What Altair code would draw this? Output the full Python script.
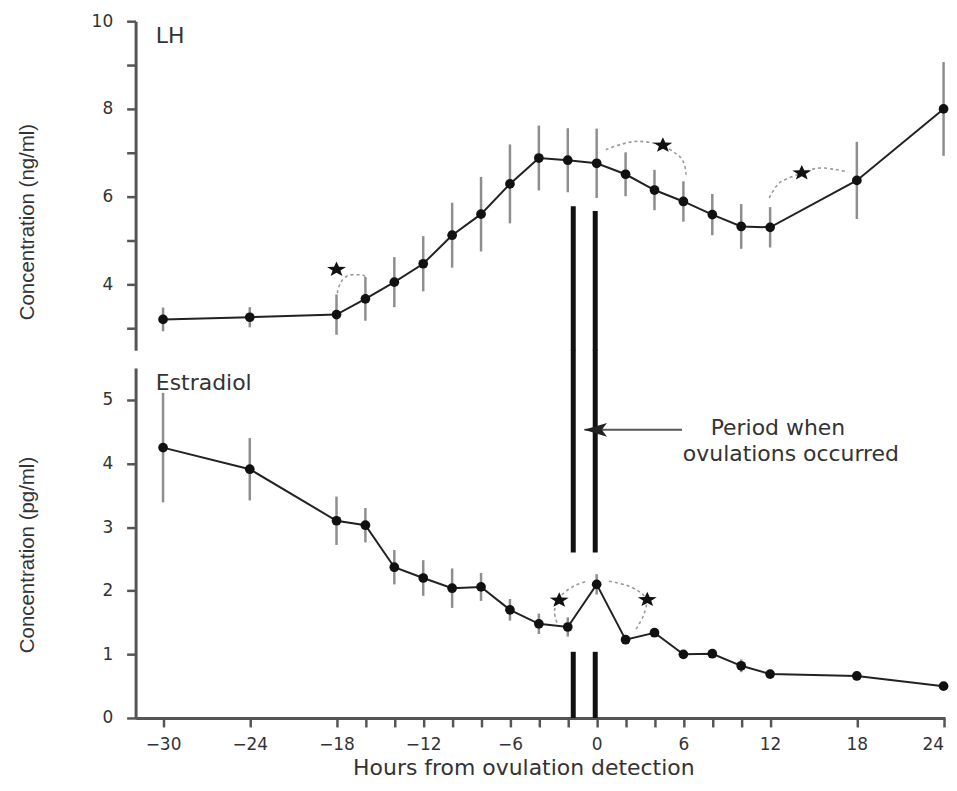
import math
import altair as alt
import pandas as pd

# ---------------- data ----------------
hours = [-30, -24, -18, -16, -14, -12, -10, -8, -6, -4, -2, 0, 2, 4, 6, 8, 10, 12, 18, 24]
lh_mean = [3.20, 3.25, 3.31, 3.67, 4.05, 4.47, 5.12, 5.60, 6.29, 6.88, 6.83, 6.76,
           6.51, 6.15, 5.89, 5.59, 5.32, 5.30, 6.37, 8.00]
lh_err = [0.27, 0.23, 0.46, 0.50, 0.57, 0.63, 0.74, 0.85, 0.90, 0.74, 0.73, 0.79,
          0.50, 0.46, 0.46, 0.47, 0.51, 0.46, 0.88, 1.07]
e2_mean = [4.25, 3.91, 3.10, 3.03, 2.37, 2.20, 2.04, 2.06, 1.70, 1.48, 1.43, 2.10,
           1.23, 1.34, 1.00, 1.01, 0.82, 0.69, 0.66, 0.50]
e2_err = [0.86, 0.49, 0.38, 0.27, 0.27, 0.28, 0.31, 0.22, 0.17, 0.16, 0.15, 0.16,
          0.05, 0.06, 0.06, 0.05, 0.10, 0.03, 0.03, 0.02]

# period when ovulations occurred (two thick vertical bars)
period_x = [-1.62, -0.10]
period_top_lh = [5.78, 5.67]
period_lh_end = [2.49, 2.49]
period_e2_upper_top = [5.79, 5.79]
period_e2_upper_bottom = [2.6, 2.6]
period_e2_lower_top = [1.04, 1.04]
period_e2_lower_bottom = [0.0, 0.0]

# significance arcs (dashed) and stars
arc_lh_id = [1] * 6 + [2] * 7 + [3] * 7
arc_lh_x = [-17.95, -17.7, -17.2, -16.5, -16.1, -16.0,
            0.63, 1.77, 2.92, 4.4, 5.57, 6.03, 6.19,
            11.94, 12.35, 12.8, 14.19, 15.34, 16.5, 17.4]
arc_lh_y = [3.80, 4.05, 4.20, 4.22, 4.20, 4.12,
            7.07, 7.20, 7.26, 7.18, 6.96, 6.77, 6.50,
            5.97, 6.20, 6.35, 6.54, 6.65, 6.62, 6.56]
star_lh_x = [-18.0, 4.58, 14.19]
star_lh_y = [4.34, 7.17, 6.54]

arc_e2_id = [1] * 6 + [2] * 7
arc_e2_x = [-2.75, -2.92, -2.65, -2.13, -1.44, -0.64,
            0.86, 2.0, 2.92, 3.45, 3.27, 2.92, 2.7]
arc_e2_y = [1.50, 1.68, 1.87, 1.99, 2.09, 2.15,
            2.15, 2.09, 1.99, 1.85, 1.63, 1.47, 1.39]
star_e2_x = [-2.59, 3.5]
star_e2_y = [1.85, 1.86]

arrow_x = [-0.85]
arrow_x2 = [5.9]
arrow_y = [4.53]
arrow_head_x = [-0.08]

note_x = [12.54, 13.44]
note_y = [4.56, 4.15]
note_text = ["Period when", "ovulations occurred"]

lh_label = (["LH"], [-30.5], [9.66])
e2_label = (["Estradiol"], [-30.5], [5.27])

# ---------------- styles ----------------
FONT = "DejaVu Sans"
TEXT_COLOR = "#333333"
AXIS_COLOR = "#555555"
BAR_COLOR = "#8e8e8e"


def star_path(r_in=0.42, sy=0.8):
    pts = []
    for k in range(10):
        ang = math.radians(-90 + 36 * k)
        r = 1.0 if k % 2 == 0 else r_in
        pts.append(f"{r * math.cos(ang):.3f},{r * math.sin(ang) * sy:.3f}")
    return "M" + "L".join(pts) + "Z"


STAR = star_path()
ARROW = "M-1,0L1,-0.6L0.55,0L1,0.6Z"

xs = alt.Scale(domain=[-31.9, 24.1], nice=False, zero=False)
x_top = alt.X("h:Q", scale=xs, axis=None)
x_bot = alt.X(
    "h:Q", scale=xs,
    axis=alt.Axis(values=hours, labelExpr="datum.value % 6 === 0 ? datum.label : ''",
                  title="Hours from ovulation detection", labelFlush=5, labelOverlap=False,
                  titleFont=FONT, titleFontSize=22, titleX=389, titleY=40),
)

ys_top = alt.Scale(domain=[2.5, 10], nice=False, zero=False)
ys_bot = alt.Scale(domain=[0, 5.5], nice=False, zero=False)
y_top = alt.Y(
    "v:Q", scale=ys_top,
    axis=alt.Axis(values=[3, 4, 5, 6, 7, 8, 9, 10], format="d",
                  labelExpr="datum.value % 2 === 0 ? datum.label : ''",
                  title="Concentration (ng/ml)", titleX=-98, titleY=201, labelOverlap=False),
)
y_bot = alt.Y(
    "v:Q", scale=ys_bot,
    axis=alt.Axis(values=[0, 0.5, 1, 1.5, 2, 2.5, 3, 3.5, 4, 4.5, 5], format="d",
                  labelExpr="datum.value % 1 === 0 ? datum.label : ''",
                  title="Concentration (pg/ml)", titleX=-98, titleY=187, labelOverlap=False),
)


def panel(x_enc, y_enc, mean, err, bars, arcs, stars, label, extras):
    base = pd.DataFrame({"h": hours, "v": mean})
    edf = pd.DataFrame({"h": hours,
                        "v": [m - e for m, e in zip(mean, err)],
                        "v2": [m + e for m, e in zip(mean, err)]})
    errbars = alt.Chart(edf).mark_rule(color=BAR_COLOR, strokeWidth=2.5).encode(
        x=x_enc, y=y_enc, y2="v2:Q")
    line = alt.Chart(base).mark_line(color="#222222", strokeWidth=2).encode(x=x_enc, y=y_enc)
    pts = alt.Chart(base).mark_circle(color="#111111", size=95, opacity=1).encode(x=x_enc, y=y_enc)
    layers = []
    for (bx, btop, bbot) in bars:
        bdf = pd.DataFrame({"h": bx, "v": btop, "v2": bbot})
        layers.append(alt.Chart(bdf).mark_rule(color="#111111", strokeWidth=5, strokeCap="butt")
                      .encode(x=x_enc, y=y_enc, y2="v2:Q"))
    ax_id, ax_x, ax_y = arcs
    adf = pd.DataFrame({"id": ax_id, "h": ax_x, "v": ax_y, "o": list(range(len(ax_x)))})
    arc = alt.Chart(adf).mark_line(color="#9a9a9a", strokeWidth=1.6, strokeDash=[3, 3],
                                   interpolate="cardinal").encode(
        x=x_enc, y=y_enc, detail="id:N", order="o:Q")
    sdf = pd.DataFrame({"h": stars[0], "v": stars[1]})
    star = alt.Chart(sdf).mark_point(shape=STAR, filled=True, color="#111111", size=400,
                                     opacity=1, strokeWidth=0).encode(x=x_enc, y=y_enc)
    ldf = pd.DataFrame({"t": label[0], "h": label[1], "v": label[2]})
    lab = alt.Chart(ldf).mark_text(align="left", baseline="middle", font=FONT, fontSize=22,
                                   color=TEXT_COLOR).encode(x=x_enc, y=y_enc, text="t:N")
    return alt.layer(line, errbars, *layers, pts, arc, star, lab, *extras)


# annotation for the bottom panel
adf = pd.DataFrame({"h": arrow_x, "h2": arrow_x2, "v": arrow_y})
arrow_line = alt.Chart(adf).mark_rule(color="#555555", strokeWidth=2).encode(
    x=x_bot, x2="h2:Q", y=y_bot)
hdf = pd.DataFrame({"h": arrow_head_x, "v": arrow_y})
arrow_head = alt.Chart(hdf).mark_point(shape=ARROW, filled=True, color="#222222", size=529,
                                       opacity=1, strokeWidth=0).encode(x=x_bot, y=y_bot)
ndf = pd.DataFrame({"h": note_x, "v": note_y, "t": note_text})
note = alt.Chart(ndf).mark_text(align="center", baseline="middle", font=FONT, fontSize=22,
                                color=TEXT_COLOR).encode(x=x_bot, y=y_bot, text="t:N")

top = panel(x_top, y_top, lh_mean, lh_err,
            [(period_x, period_top_lh, period_lh_end)],
            (arc_lh_id, arc_lh_x, arc_lh_y), (star_lh_x, star_lh_y), lh_label, []
            ).properties(width=812, height=330)

bottom = panel(x_bot, y_bot, e2_mean, e2_err,
               [(period_x, period_e2_upper_top, period_e2_upper_bottom),
                (period_x, period_e2_lower_top, period_e2_lower_bottom)],
               (arc_e2_id, arc_e2_x, arc_e2_y), (star_e2_x, star_e2_y), e2_label,
               [arrow_line, arrow_head, note]
               ).properties(width=812, height=351)

chart = alt.VConcatChart(vconcat=[top, bottom], spacing=18, bounds="flush").properties(
    padding={"left": 10, "top": 3, "right": 0, "bottom": 0},
    background="white",
).configure_view(stroke=None).configure_axis(
    grid=False, domainColor=AXIS_COLOR, domainWidth=3, tickColor=AXIS_COLOR, tickWidth=2.5,
    tickSize=9, labelFont=FONT, labelFontSize=17, labelColor=TEXT_COLOR,
    titleFont="Liberation Sans", titleFontSize=20.5, titleColor=TEXT_COLOR,
    titleFontWeight="normal",
).configure_axisY(labelPadding=14).configure_axisX(labelPadding=10)

chart.save("out.html", embed_options={"renderer": "svg", "actions": False})
